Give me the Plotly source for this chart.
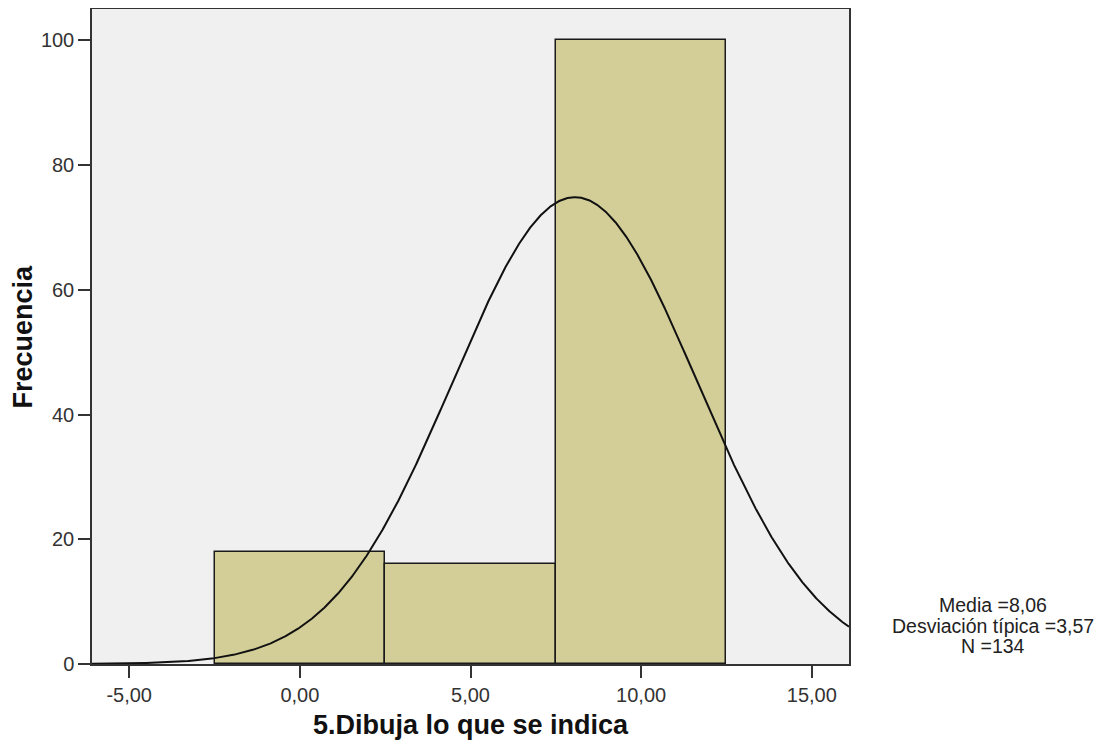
import numpy as np
import plotly.graph_objects as go

# Data
bin_centers = [0.0, 5.0, 10.0]
bin_counts = [18, 16, 100]
bin_width = 5.0
mean_val = 8.06
std_val = 3.57
n_total = 134
x_ticks = [-5, 0, 5, 10, 15]
x_tick_labels = ["-5,00", "0,00", "5,00", "10,00", "15,00"]
y_ticks = [0, 20, 40, 60, 80, 100]
x_range = [-6.09, 16.09]
y_range = [0, 105.05]

fig = go.Figure()
fig.add_trace(go.Bar(
    x=bin_centers, y=bin_counts, width=[bin_width] * len(bin_centers),
    marker=dict(color="#D3CE98", line=dict(color="#1a1a1a", width=1.5)),
    showlegend=False, hoverinfo="x+y",
))

xs = np.linspace(x_range[0], x_range[1], 1200)
ys = n_total * bin_width / (std_val * np.sqrt(2 * np.pi)) * np.exp(-0.5 * ((xs - mean_val) / std_val) ** 2)
fig.add_trace(go.Scatter(x=xs, y=ys, mode="lines",
                         line=dict(color="#111111", width=2), showlegend=False))

font_family = "Liberation Sans, Arial, sans-serif"
stats_lines = [
    f"Media ={mean_val:.2f}".replace(".", ","),
    f"Desviación típica ={std_val:.2f}".replace(".", ","),
    f"N ={n_total}",
]
annotations = [
    dict(xref="paper", yref="paper", x=0.5, y=0, xanchor="center", yanchor="middle",
         yshift=-61, text="<b>5.Dibuja lo que se indica</b>", showarrow=False,
         font=dict(size=27, color="#111111")),
    dict(xref="paper", yref="paper", x=0, y=0.5, xanchor="center", yanchor="middle",
         xshift=-70, textangle=-90, text="<b>Frecuencia</b>", showarrow=False,
         font=dict(size=27, color="#111111")),
]
for i, line in enumerate(stats_lines):
    annotations.append(dict(
        xref="paper", yref="paper", x=1, y=0, xanchor="center", yanchor="middle",
        xshift=144, yshift=59 - 20.5 * i, text=line, showarrow=False,
        font=dict(size=19.5, color="#222222")))

fig.update_layout(
    width=1106, height=740,
    margin=dict(l=84, r=265, t=1, b=84, autoexpand=False),
    paper_bgcolor="white", plot_bgcolor="#F0F0F0",
    bargap=0,
    font=dict(family=font_family, size=20, color="#333333"),
    xaxis=dict(
        range=x_range, tickvals=x_ticks, ticktext=x_tick_labels, automargin=False,
        showgrid=False, zeroline=False, showline=True, linecolor="#333333", linewidth=1.5,
        mirror=True, ticks="outside", ticklen=12, tickcolor="#333333", tickwidth=2,
        tickfont=dict(size=20),
    ),
    yaxis=dict(
        range=y_range, tickvals=y_ticks, ticktext=[str(v) for v in y_ticks], automargin=False,
        showgrid=False, zeroline=False, showline=True, linecolor="#333333", linewidth=1.5,
        mirror=True, ticks="outside", ticklen=12, tickcolor="#333333", tickwidth=2,
        tickfont=dict(size=20),
    ),
    annotations=annotations,
)

fig.write_html("out.html")
